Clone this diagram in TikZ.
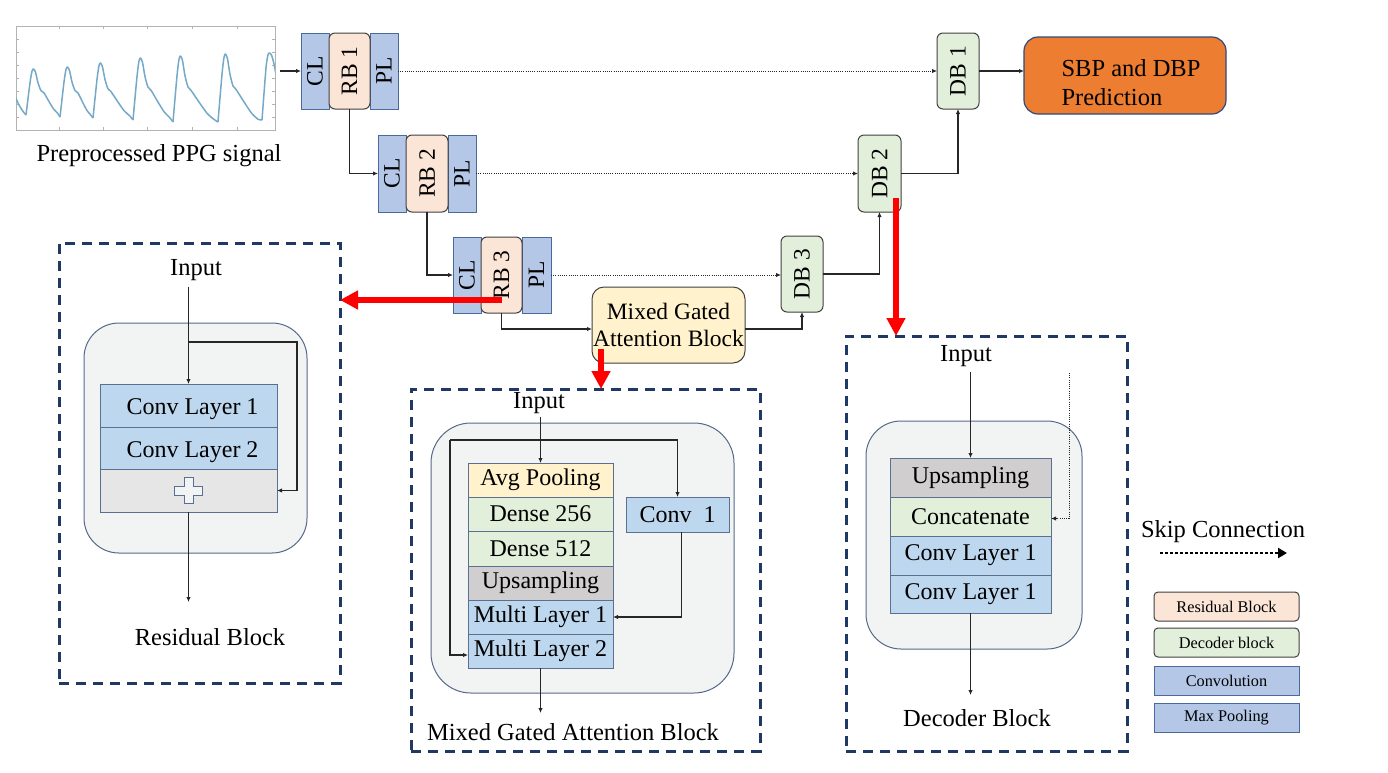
\documentclass[tikz,border=0pt]{standalone}
\usepackage{fontspec}
\setmainfont{Liberation Serif}
\usetikzlibrary{arrows.meta,calc}
\definecolor{cblue}{HTML}{B4C7E7}
\definecolor{cbluebd}{HTML}{4A6A9B}
\definecolor{peach}{HTML}{FBE5D6}
\definecolor{greenf}{HTML}{E2EFDA}
\definecolor{dkgray}{HTML}{404040}
\definecolor{ltblue}{HTML}{BDD7EE}
\definecolor{upgray}{HTML}{D0CECE}
\definecolor{plusgray}{HTML}{E7E6E6}
\definecolor{yell}{HTML}{FFF2CC}
\definecolor{innerbg}{HTML}{F2F3F3}
\definecolor{innerbd}{HTML}{56698A}
\definecolor{stackbd}{HTML}{5B7090}
\definecolor{navy}{HTML}{1F3864}
\definecolor{orng}{HTML}{ED7D31}
\definecolor{orngbd}{HTML}{2F4B7C}
\definecolor{wavec}{HTML}{76A9C7}
\begin{document}
\begin{tikzpicture}[x=1pt,y=-1pt,
  every node/.style={inner sep=0pt, outer sep=0pt},
  big/.style={font=\fontsize{24.5}{29}\selectfont},
  enc/.style={draw=cbluebd, fill=cblue, line width=1pt, font=\fontsize{23.5}{27}\selectfont},
  res/.style={draw=dkgray, fill=peach, rounded corners=6pt, line width=1pt, font=\fontsize{23.5}{27}\selectfont},
  dec/.style={draw=dkgray, fill=greenf, rounded corners=6pt, line width=1pt, font=\fontsize{23.5}{27}\selectfont},
  layer/.style={draw=stackbd, line width=1pt, font=\fontsize{24}{28}\selectfont},
  lowtext/.style={text height=20pt, text depth=1.8pt},
  panel/.style={draw=navy, line width=3pt, dash pattern=on 10pt off 7pt},
  inbox/.style={draw=innerbd, fill=innerbg, line width=1pt},
  conn/.style={draw=black!85, line width=1.1pt, -{Latex[length=5pt,width=4.5pt]}},
  skipc/.style={draw=black!85, line width=1pt, dash pattern=on 1pt off 1.2pt, -{Latex[length=5pt,width=4.5pt]}},
  redarr/.style={draw=red, line width=6pt, -{Triangle[length=18pt,width=18pt]}},
  wave/.style={draw=wavec, line width=1.5pt, line join=round},
  legb/.style={line width=1pt, minimum width=145pt, minimum height=29pt, font=\fontsize{16.3}{19}\selectfont}
]
\useasboundingbox (0,0) rectangle (1388,772);
\fill[white] (0,0) rectangle (1388,772);

% ---------- PPG signal ----------
\node[draw=gray!60, line width=0.8pt, minimum width=259pt, minimum height=104pt] (sig) at (145.5,78) {};
\begin{scope}
\clip (sig.south west) rectangle (sig.north east);
\foreach \xx in {59,103,147,192,237}{
  \draw[gray!60, line width=0.6pt] (\xx,130) -- (\xx,127);
  \draw[gray!60, line width=0.6pt] (\xx,26) -- (\xx,29);
}
\foreach \yy in {39,52,65,78,91,104,117}{
  \draw[gray!60, line width=0.6pt] (16,\yy) -- (19,\yy);
  \draw[gray!60, line width=0.6pt] (275,\yy) -- (272,\yy);
}
\draw[wave] plot[smooth,tension=0.5] coordinates {(14,94) (18,103) (22,110) (26,115)};
\foreach \ta/\ya/\tb/\yb/\pk in {26/115/60/117/69, 60/117/93/118/67, 93/118/133/120/63, 133/120/173/122/58, 173/122/218/122/56, 218/122/262/120/54}{
  \pgfmathsetmacro\wper{\tb-\ta}
  \pgfmathsetmacro\wamp{\ya-\pk}
  \pgfmathsetmacro\wrest{\wper-18}
  \draw[wave] plot[smooth,tension=0.45] coordinates {(\ta,\ya) ({\ta+4},{\pk+0.3*\wamp}) ({\ta+6},{\pk+0.05*\wamp}) ({\ta+7.5},\pk) ({\ta+9.5},{\pk+0.07*\wamp}) ({\ta+12},{\pk+0.3*\wamp}) ({\ta+15},{\pk+0.47*\wamp}) ({\ta+18},{\pk+0.52*\wamp}) ({\ta+18+0.3*\wrest},{\pk+0.7*\wamp}) ({\ta+18+0.6*\wrest},{\pk+0.87*\wamp}) ({\ta+18+0.85*\wrest},{\pk+0.96*\wamp}) (\tb,\yb)};
}
\draw[wave] plot[smooth,tension=0.45] coordinates {(262,120) (266,68) (268,55) (269.5,53) (271.5,55) (274,64) (277,80)};
\end{scope}
\node[big] (siglbl) at (159,156) {Preprocessed PPG signal};

% ---------- encoder ----------
\node[enc, minimum width=28pt, minimum height=76pt] (cl1) at (315,71) {\rotatebox{90}{CL}};
\node[enc, minimum width=28pt, minimum height=76pt] (pl1) at (384,71) {\rotatebox{90}{PL}};
\node[res, minimum width=41pt, minimum height=76pt] (rb1) at (349.5,71) {\rotatebox{90}{RB 1}};

\node[enc, minimum width=28pt, minimum height=77pt] (cl2) at (392,173.5) {\rotatebox{90}{CL}};
\node[enc, minimum width=28pt, minimum height=77pt] (pl2) at (462,173.5) {\rotatebox{90}{PL}};
\node[res, minimum width=42pt, minimum height=77pt] (rb2) at (427,173.5) {\rotatebox{90}{RB 2}};

\node[enc, minimum width=28pt, minimum height=76pt] (cl3) at (467,275) {\rotatebox{90}{CL}};
\node[enc, minimum width=29pt, minimum height=76pt] (pl3) at (536.5,275) {\rotatebox{90}{PL}};
\node[res, minimum width=41pt, minimum height=76pt] (rb3) at (501.5,275) {\rotatebox{90}{RB 3}};

% ---------- decoder ----------
\node[dec, minimum width=42pt, minimum height=76pt] (db1) at (958,71) {\rotatebox{90}{DB 1}};
\node[dec, minimum width=43pt, minimum height=77pt] (db2) at (879.5,173.5) {\rotatebox{90}{DB 2}};
\node[dec, minimum width=42pt, minimum height=76pt] (db3) at (802,274) {\rotatebox{90}{DB 3}};

\node[draw=dkgray, fill=yell, rounded corners=12pt, line width=1pt, minimum width=153pt, minimum height=76pt, align=center, font=\fontsize{23.5}{27.5}\selectfont] (mgab) at (668.5,325) {Mixed Gated\\Attention Block};

\node[draw=orngbd, fill=orng, rounded corners=14pt, line width=1.2pt, minimum width=202pt, minimum height=77pt, align=left, font=\fontsize{24.5}{29}\selectfont] (sbp) at (1125,75.5) {\rule{0pt}{31pt}\hspace*{12pt}SBP and DBP\\\hspace*{12pt}Prediction};

% ---------- main connectors ----------
\coordinate (sigout) at ($(cl1.west)+(-21,0)$);
\draw[conn] (sigout) -- (cl1.west);
\draw[conn] (rb1.south) |- (cl2.west);
\draw[conn] (rb2.south) |- (cl3.west);
\draw[conn] (rb3.south) |- ($(mgab.west)+(0,4)$);
\draw[conn] ($(mgab.east)+(0,4)$) -| (db3.south);
\draw[conn] (db3.east) -| (db2.south);
\draw[conn] (db2.east) -| (db1.south);
\draw[conn] (db1.east) -- (db1.east -| sbp.west);
\draw[skipc] (pl1.east) -- (db1.west);
\draw[skipc] (pl2.east) -- (db2.west);
\draw[skipc] (pl3.east) -- (pl3.east -| db3.west);

% ---------- panels ----------
\node[panel, minimum width=281pt, minimum height=440pt] (box1) at (199.5,463) {};
\node[panel, minimum width=349pt, minimum height=362pt] (box2) at (585.5,570) {};
\node[panel, minimum width=281pt, minimum height=415pt] (box3) at (986.5,543.5) {};

% red arrows
\coordinate (r3) at ($(rb3.south)+(0,-13)$);
\draw[redarr] (r3) -- (r3 -| box1.east);
\coordinate (r2) at ($(db2.south east)+(-5,-14)$);
\draw[redarr] (r2) -- (r2 |- box3.north);
\coordinate (r1) at ($(mgab.south west)+(9,-14)$);
\draw[redarr] (r1) -- (r1 |- box2.north);

% ---------- residual block panel ----------
\node[inbox, rounded corners=35pt, minimum width=223pt, minimum height=230pt] (in1) at (195.5,438) {};
\node[layer, lowtext, fill=ltblue, minimum width=177pt, minimum height=43pt] (rc1) at (188.5,405.5) {\hspace{8pt}Conv Layer 1};
\node[layer, lowtext, fill=ltblue, minimum width=177pt, minimum height=42pt] (rc2) at (188.5,448) {\hspace{8pt}Conv Layer 2};
\node[layer, fill=plusgray, minimum width=177pt, minimum height=43pt] (rc3) at (188.5,490.5) {};
\draw[draw=stackbd, fill=innerbg, line width=0.9pt]
  ($(rc3.center)+(-4.5,-13)$) -- ++(9,0) -- ++(0,8.5) -- ++(9.5,0) -- ++(0,9) -- ++(-9.5,0) -- ++(0,8.5)
  -- ++(-9,0) -- ++(0,-8.5) -- ++(-9.5,0) -- ++(0,-9) -- ++(9.5,0) -- cycle;
\node[big] (inp1) at (196,270) {Input};
\draw[conn] (rc1.north |- inp1.south) ++(0,6) -- (rc1.north);
\coordinate (s1) at (297,342);
\draw[conn] (rc1.north |- s1) -- (s1) |- (rc3.east);
\node[big] (rbt) at (210,637) {Residual Block};
\draw[conn] (rc3.south) -- ++(0,90);

% ---------- mixed gated attention panel ----------
\node[inbox, rounded corners=40pt, minimum width=303pt, minimum height=270pt] (in2) at (582.5,558) {};
\node[layer, fill=yell, minimum width=145pt, minimum height=34pt] (mg1) at (540.5,480) {Avg Pooling};
\node[layer, fill=greenf, minimum width=145pt, minimum height=34pt] (mg2) at (540.5,514) {Dense 256};
\node[layer, fill=greenf, minimum width=145pt, minimum height=35pt] (mg3) at (540.5,548.5) {Dense 512};
\node[layer, fill=upgray, minimum width=145pt, minimum height=34pt] (mg4) at (540.5,583) {Upsampling};
\node[layer, fill=ltblue, minimum width=145pt, minimum height=34pt] (mg5) at (540.5,617) {Multi Layer 1};
\node[layer, fill=ltblue, minimum width=145pt, minimum height=34pt] (mg6) at (540.5,651) {Multi Layer 2};
\node[layer, fill=ltblue, minimum width=103pt, minimum height=35pt] (conv1) at (677.5,514.5) {Conv~~1};
\node[big] (inp2) at (539,403) {Input};
\draw[conn] (mg1.north |- inp2.south) ++(0,3) -- (mg1.north);
\coordinate (s2) at (450,440);
\draw[conn] (s2) -| (conv1.north);
\draw[conn] (s2) |- ($(mg6.west)+(0,4)$);
\draw[conn] ($(conv1.south)+(4,0)$) |- (mg5.east);
\node[big] (mgt) at (573,732) {Mixed Gated Attention Block};
\draw[conn] (mg6.south) -- ++(0,45);

% ---------- decoder panel ----------
\node[inbox, rounded corners=35pt, minimum width=216pt, minimum height=228pt] (in3) at (974,535) {};
\node[layer, fill=upgray, minimum width=161pt, minimum height=39pt] (dc1) at (970.5,477.5) {Upsampling};
\node[layer, fill=greenf, minimum width=161pt, minimum height=39pt] (dc2) at (970.5,516.5) {Concatenate};
\node[layer, fill=ltblue, minimum width=161pt, minimum height=39pt] (dc3) at (970.5,555.5) {Conv Layer 1};
\node[layer, fill=ltblue, minimum width=161pt, minimum height=38pt] (dc4) at (970.5,594) {Conv Layer 1};
\node[big] (inp3) at (966,356) {Input};
\draw[conn] (dc1.north |- inp3.south) ++(0,5) -- (dc1.north);
\coordinate (s3) at (1069,373);
\draw[skipc] (s3) |- ($(dc2.east)+(0,2)$);
\node[big] (dbt) at (977,718) {Decoder Block};
\draw[conn] (dc4.south) -- ++(0,82);

% ---------- legend ----------
\node[big] (skl) at (1223,532) {Skip Connection};
\coordinate (ska) at (1160,553);
\coordinate (skb) at (1287,553);
\draw[draw=black, line width=2.6pt, dash pattern=on 2.6pt off 2.4pt, -{Triangle[length=9pt,width=10pt]}] (ska) -- (skb);
\node[legb, draw=dkgray, fill=peach, rounded corners=4pt] (lg1) at (1226.5,606.5) {Residual Block};
\node[legb, draw=dkgray, fill=greenf, rounded corners=4pt] (lg2) at (1226.5,642.5) {Decoder block};
\node[legb, draw=cbluebd, fill=cblue] (lg3) at (1226.5,680.5) {Convolution};
\node[legb, draw=cbluebd, fill=cblue] (lg4) at (1226.5,718) {Max Pooling};
\end{tikzpicture}
\end{document}
